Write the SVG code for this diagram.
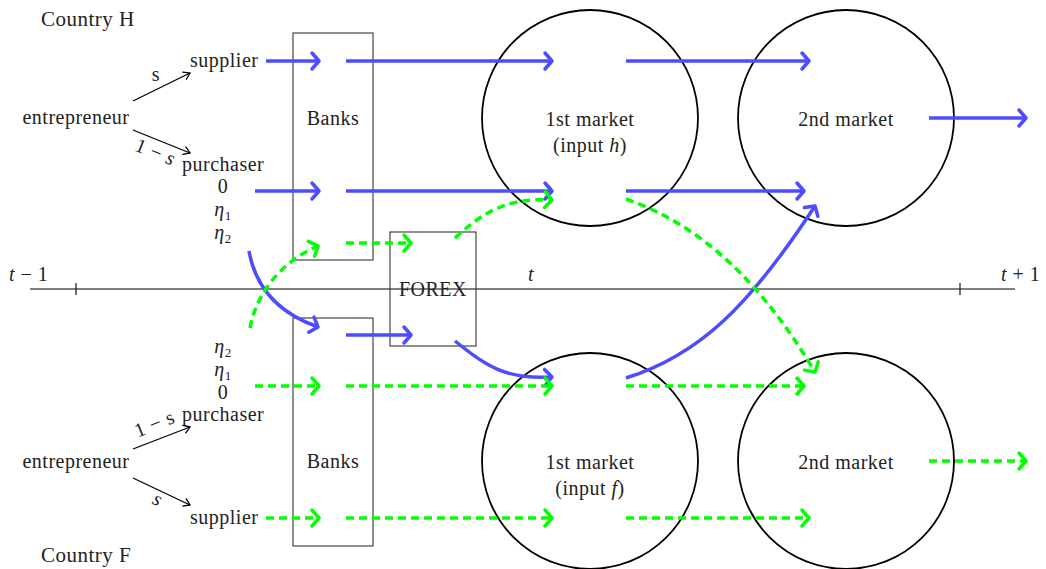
<svg xmlns="http://www.w3.org/2000/svg" width="1046" height="569" viewBox="0 0 1046 569">
<style>
text{font-family:"Liberation Serif","Times New Roman",serif;font-size:20px;letter-spacing:0.5px;fill:#222}
.it{font-style:italic}
.circ{fill:none;stroke:#000;stroke-width:1.8}
.box{fill:none;stroke:#333;stroke-width:1.1}
.b{fill:none;stroke:#4d4dff;stroke-width:3.5}
.g{fill:none;stroke:#00ff00;stroke-width:3.5;stroke-dasharray:8 5}
.k{fill:none;stroke:#000;stroke-width:1.3}
</style>
<defs>
<marker id="mb" markerUnits="userSpaceOnUse" viewBox="-10 -10 14 20" refX="0" refY="0" markerWidth="14" markerHeight="20" orient="auto" overflow="visible">
<path d="M-7,-8 L0,0 L-7,8" fill="none" stroke="#4d4dff" stroke-width="3.5" stroke-linecap="round" stroke-linejoin="round"/>
</marker>
<marker id="mg" markerUnits="userSpaceOnUse" viewBox="-10 -10 14 20" refX="0" refY="0" markerWidth="14" markerHeight="20" orient="auto" overflow="visible">
<path d="M-7,-8 L0,0 L-7,8" fill="none" stroke="#00ff00" stroke-width="3.5" stroke-linecap="round" stroke-linejoin="round"/>
</marker>
<marker id="mk" markerUnits="userSpaceOnUse" viewBox="-10 -10 14 20" refX="0" refY="0" markerWidth="14" markerHeight="20" orient="auto" overflow="visible">
<path d="M-6,-4 L0,0 L-6,4" fill="none" stroke="#000" stroke-width="1.3" stroke-linecap="round"/>
</marker>
</defs>

<g id="axis">
<line x1="30" y1="289" x2="1015" y2="289" stroke="#000" stroke-width="1.1"/>
<line x1="76" y1="283" x2="76" y2="295" stroke="#000" stroke-width="1.1"/>
<line x1="960" y1="283" x2="960" y2="295" stroke="#000" stroke-width="1.1"/>
<text x="9" y="281" class="it">t<tspan font-style="normal"> − 1</tspan></text>
<text x="528" y="281" class="it">t</text>
<text x="1001" y="281" class="it">t<tspan font-style="normal"> + 1</tspan></text>
</g>

<g id="countryH-labels">
<text x="41" y="26" style="font-size:21px">Country H</text>
<text x="76" y="124" text-anchor="middle">entrepreneur</text>
<text x="190" y="67">supplier</text>
<text x="182" y="171">purchaser</text>
<text x="223" y="193" text-anchor="middle">0</text>
<text x="223" y="216" text-anchor="middle" class="it">η<tspan font-style="normal" font-size="13" dy="4">1</tspan></text>
<text x="223" y="239" text-anchor="middle" class="it">η<tspan font-style="normal" font-size="13" dy="4">2</tspan></text>
<text x="156" y="81" text-anchor="middle">s</text>
<text x="0" y="0" text-anchor="middle" transform="translate(153,158) rotate(22)">1 − <tspan class="it">s</tspan></text>
</g>

<g id="countryF-labels">
<text x="41" y="562" style="font-size:21px">Country F</text>
<text x="76" y="468" text-anchor="middle">entrepreneur</text>
<text x="190" y="524">supplier</text>
<text x="182" y="421">purchaser</text>
<text x="223" y="399" text-anchor="middle">0</text>
<text x="223" y="376" text-anchor="middle" class="it">η<tspan font-style="normal" font-size="13" dy="4">1</tspan></text>
<text x="223" y="353" text-anchor="middle" class="it">η<tspan font-style="normal" font-size="13" dy="4">2</tspan></text>
<text x="0" y="0" text-anchor="middle" transform="translate(157,430) rotate(-22)">1 − s</text>
<text x="0" y="0" text-anchor="middle" class="it" transform="translate(155,505) rotate(25)">s</text>
</g>

<g id="banksH"><rect class="box" x="293" y="33" width="80" height="227"/><text x="333" y="125" text-anchor="middle">Banks</text></g>
<g id="banksF"><rect class="box" x="293" y="318" width="80" height="228"/><text x="333" y="468" text-anchor="middle">Banks</text></g>
<g id="forex"><rect class="box" x="390" y="232" width="86" height="114"/><text x="433" y="296" text-anchor="middle">FOREX</text></g>

<g id="market1H"><circle class="circ" cx="590" cy="118" r="108"/><text x="590" y="126" text-anchor="middle">1st market</text><text x="590" y="152" text-anchor="middle">(input <tspan class="it">h</tspan>)</text></g>
<g id="market2H"><circle class="circ" cx="846" cy="118" r="108"/><text x="846" y="126" text-anchor="middle">2nd market</text></g>
<g id="market1F"><circle class="circ" cx="590" cy="461" r="108"/><text x="590" y="469" text-anchor="middle">1st market</text><text x="590" y="495" text-anchor="middle">(input <tspan class="it">f</tspan>)</text></g>
<g id="market2F"><circle class="circ" cx="846" cy="461" r="108"/><text x="846" y="469" text-anchor="middle">2nd market</text></g>

<g id="connectors">
<line class="k" x1="133" y1="101" x2="190" y2="73" marker-end="url(#mk)"/>
<line class="k" x1="133" y1="130" x2="190" y2="153" marker-end="url(#mk)"/>
<line class="k" x1="133" y1="449" x2="190" y2="427" marker-end="url(#mk)"/>
<line class="k" x1="133" y1="478" x2="190" y2="505" marker-end="url(#mk)"/>

<line class="b" x1="266" y1="61" x2="319" y2="61" marker-end="url(#mb)"/>
<line class="b" x1="346" y1="61" x2="552" y2="61" marker-end="url(#mb)"/>
<line class="b" x1="626" y1="61" x2="809" y2="61" marker-end="url(#mb)"/>
<line class="b" x1="255" y1="191" x2="319" y2="191" marker-end="url(#mb)"/>
<line class="b" x1="346" y1="191" x2="552" y2="191" marker-end="url(#mb)"/>
<line class="b" x1="626" y1="191" x2="804" y2="191" marker-end="url(#mb)"/>
<line class="b" x1="929" y1="118" x2="1026" y2="118" marker-end="url(#mb)"/>
<line class="b" x1="346" y1="335" x2="411" y2="335" marker-end="url(#mb)"/>
<path class="b" d="M249,251 C255,285 275,312 318,327" marker-end="url(#mb)"/>
<path class="b" d="M455,341 C485,365 505,380 552,377" marker-end="url(#mb)"/>
<path class="b" d="M626,378 C700,355 750,305 815,206" marker-end="url(#mb)"/>

<line class="g" x1="346" y1="243" x2="411" y2="243" marker-end="url(#mg)"/>
<path class="g" d="M250,328 C256,295 280,262 318,246" marker-end="url(#mg)"/>
<path class="g" d="M455,238 C480,215 505,197 552,200" marker-end="url(#mg)"/>
<path class="g" d="M626,199 C700,225 760,280 815,372" marker-end="url(#mg)"/>
<line class="g" x1="255" y1="386" x2="319" y2="386" marker-end="url(#mg)"/>
<line class="g" x1="346" y1="386" x2="552" y2="386" marker-end="url(#mg)"/>
<line class="g" x1="626" y1="386" x2="804" y2="386" marker-end="url(#mg)"/>
<line class="g" x1="266" y1="518" x2="319" y2="518" marker-end="url(#mg)"/>
<line class="g" x1="346" y1="518" x2="552" y2="518" marker-end="url(#mg)"/>
<line class="g" x1="626" y1="518" x2="809" y2="518" marker-end="url(#mg)"/>
<line class="g" x1="929" y1="461" x2="1026" y2="461" marker-end="url(#mg)"/>
</g>
</svg>
